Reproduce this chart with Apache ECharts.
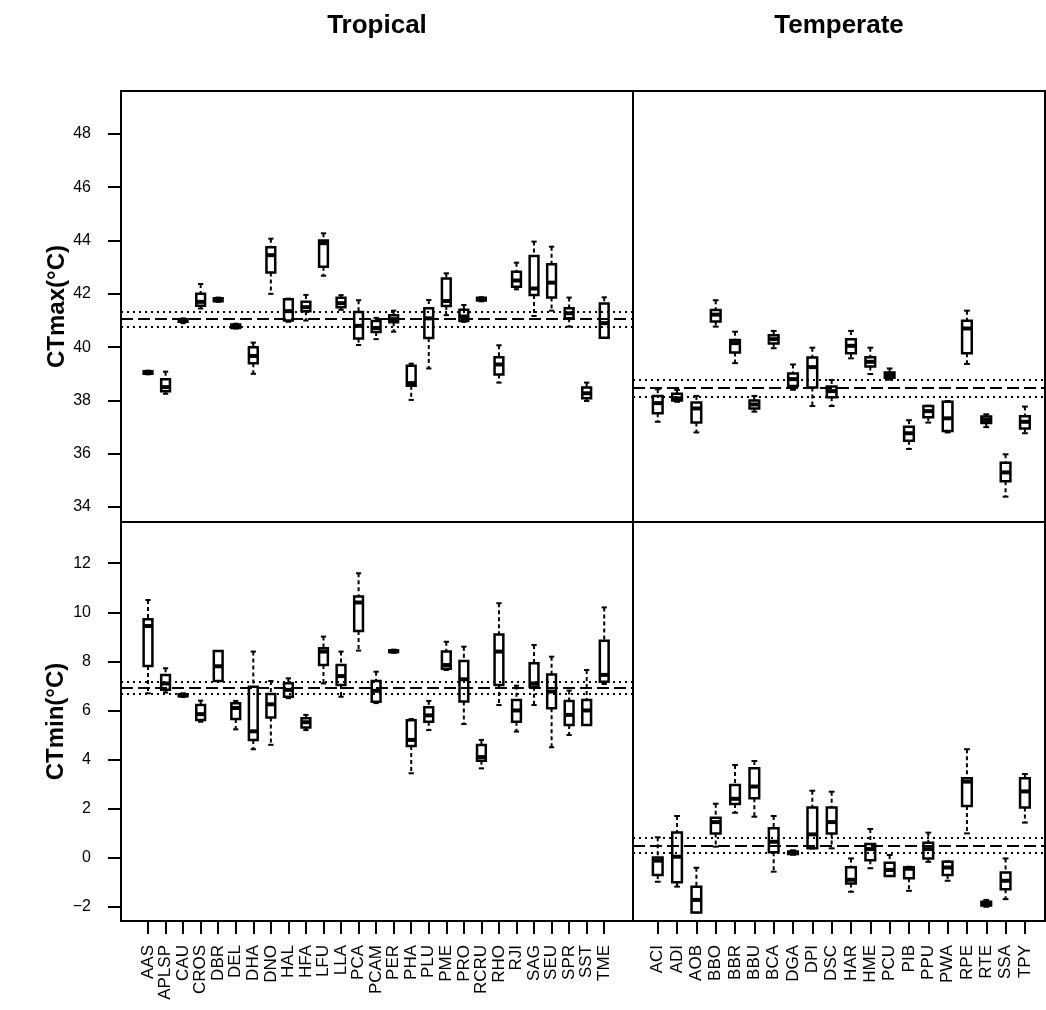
<!DOCTYPE html>
<html>
<head>
<meta charset="utf-8">
<script src="https://cdn.jsdelivr.net/npm/echarts@6/dist/echarts.min.js"></script>
<style>html,body{margin:0;padding:0;background:#fff;}#c{width:1046px;height:1010px;}</style>
</head>
<body>
<div id="c"></div>
<script>
// ---------- data ----------
const tropNames = ['AAS','APLSP','CAU','CROS','DBR','DEL','DHA','DNO','HAL','HFA','LFU','LLA','PCA','PCAM','PER','PHA','PLU','PME','PRO','RCRU','RHO','RJI','SAG','SEU','SPR','SST','TME'];
const tempNames = ['ACI','ADI','AOB','BBO','BBR','BBU','BCA','DGA','DPI','DSC','HAR','HME','PCU','PIB','PPU','PWA','RPE','RTE','SSA','TPY'];

// [lower whisker, Q1, median, Q3, upper whisker]
const tropCTmax = [
  [38.98,39.0,39.05,39.1,39.12],[38.25,38.35,38.5,38.8,39.08],[40.9,40.95,41.0,41.05,41.08],
  [41.45,41.55,41.7,42.0,42.37],[41.7,41.72,41.78,41.83,41.86],[40.7,40.72,40.78,40.85,40.88],
  [39.0,39.4,39.67,40.0,40.17],[42.0,42.8,43.45,43.75,44.07],[40.95,41.0,41.35,41.8,41.82],
  [41.0,41.35,41.5,41.7,41.96],[42.68,43.02,43.9,44.0,44.27],[41.4,41.5,41.65,41.85,41.95],
  [40.08,40.32,40.8,41.32,41.76],[40.3,40.57,40.72,40.98,41.1],[40.58,40.93,41.05,41.2,41.37],
  [38.02,38.55,38.65,39.3,39.38],[39.2,40.34,41.08,41.46,41.77],[41.2,41.54,41.73,42.58,42.77],
  [40.95,40.98,41.15,41.4,41.58],[41.72,41.75,41.8,41.85,41.87],[38.67,38.97,39.35,39.62,40.07],
  [42.17,42.27,42.5,42.83,43.17],[41.17,41.96,42.2,43.42,43.96],[41.37,41.86,42.42,43.11,43.77],
  [40.77,41.08,41.27,41.46,41.86],[37.98,38.08,38.27,38.49,38.67],[40.35,40.35,40.9,41.64,41.87]
];
const tempCTmax = [
  [37.2,37.52,37.9,38.17,38.42],[37.95,38.0,38.08,38.25,38.4],[36.8,37.17,37.7,37.92,38.17],
  [40.77,40.96,41.22,41.39,41.76],[39.4,39.8,40.15,40.27,40.58],[37.58,37.7,37.85,38.0,38.17],
  [39.96,40.14,40.3,40.45,40.61],[38.4,38.54,38.8,39.01,39.35],[37.79,38.49,39.25,39.61,39.98],
  [37.79,38.12,38.35,38.52,38.77],[39.58,39.77,40.05,40.3,40.61],[38.99,39.27,39.45,39.62,39.98],
  [38.78,38.85,38.95,39.05,39.2],[36.18,36.49,36.77,37.01,37.26],[37.17,37.37,37.6,37.79,37.8],
  [36.8,36.85,37.33,37.95,37.98],[39.37,39.77,40.7,40.99,41.37],[37.0,37.15,37.27,37.4,37.48],
  [34.39,34.97,35.3,35.66,35.98],[36.77,36.95,37.2,37.41,37.77]
];
const tropCTmin = [
  [6.7,7.81,9.44,9.72,10.5],[6.73,6.84,7.1,7.45,7.72],[6.55,6.58,6.62,6.66,6.7],
  [5.54,5.61,5.85,6.22,6.4],[7.2,7.2,7.8,8.42,8.42],[5.23,5.65,6.1,6.29,6.39],
  [4.42,4.8,5.15,6.97,8.4],[4.6,5.71,6.25,6.67,7.2],[6.5,6.56,6.84,7.11,7.31],
  [5.2,5.31,5.52,5.68,5.82],[7.1,7.85,8.4,8.53,9.01],[6.56,7.04,7.4,7.85,8.4],
  [8.44,9.24,10.4,10.64,11.59],[6.3,6.35,6.8,7.2,7.58],[8.35,8.38,8.41,8.45,8.48],
  [3.44,4.55,4.8,5.6,5.65],[5.2,5.54,5.8,6.13,6.39],[7.65,7.7,7.85,8.4,8.8],
  [5.45,6.36,7.27,8.02,8.6],[3.64,3.95,4.1,4.59,4.8],[6.22,7.04,8.4,9.1,10.37],
  [5.14,5.54,6.0,6.43,7.01],[6.22,6.97,7.1,7.92,8.67],[4.5,6.09,6.77,7.47,8.19],
  [5.0,5.41,5.82,6.39,6.81],[5.41,5.41,6.0,6.43,7.65],[7.08,7.17,7.45,8.84,10.2]
];
const tempCTmin = [
  [-0.98,-0.71,-0.12,0.01,0.83],[-1.18,-1.0,0.04,1.03,1.7],[-2.23,-2.23,-1.72,-1.18,-0.41],
  [0.45,0.99,1.45,1.63,2.2],[1.83,2.19,2.4,2.96,3.78],[1.67,2.42,2.9,3.64,3.94],
  [-0.57,0.22,0.65,1.2,1.7],[0.12,0.15,0.2,0.25,0.3],[0.38,0.38,0.95,2.05,2.73],
  [0.38,0.99,1.45,2.05,2.69],[-1.39,-1.05,-0.9,-0.39,-0.03],[-0.43,-0.1,0.35,0.56,1.17],
  [-0.75,-0.75,-0.5,-0.21,0.11],[-1.35,-0.84,-0.45,-0.39,-0.37],[-0.17,-0.03,0.35,0.61,1.02],
  [-0.94,-0.71,-0.4,-0.17,-0.15],[0.99,2.11,3.1,3.24,4.42],[-2.0,-1.95,-1.88,-1.8,-1.72],
  [-1.69,-1.29,-0.94,-0.6,-0.03],[1.43,2.05,2.7,3.24,3.41]
];

// [mean, lower CI, upper CI]
const tropMaxMean = [41.05, 40.78, 41.32];
const tempMaxMean = [38.48, 38.14, 38.79];
const tropMinMean = [6.92, 6.68, 7.16];
const tempMinMean = [0.49, 0.19, 0.81];

const maxTicks = [34, 36, 38, 40, 42, 44, 46, 48];
const minTicks = [-2, 0, 2, 4, 6, 8, 10, 12];
// ---------- end data ----------

const FONT = 'Liberation Sans';
const tropIdx = tropNames.map((_, i) => i);
const tempIdx = tempNames.map((_, i) => i);

function toItems(arr) { return arr.map((v, i) => [i].concat(v)); }

function renderBox(params, api) {
  const x = api.value(0);
  const lo = api.coord([x, api.value(1)]);
  const q1 = api.coord([x, api.value(2)]);
  const md = api.coord([x, api.value(3)]);
  const q3 = api.coord([x, api.value(4)]);
  const hi = api.coord([x, api.value(5)]);
  const w = api.size([0.5, 0])[0];
  const sw = w * 0.3;
  const cx = md[0];
  const dashed = { stroke: '#000', lineWidth: 2, lineDash: [4, 3] };
  const solid = { stroke: '#000', lineWidth: 2 };
  return {
    type: 'group',
    children: [
      { type: 'line', shape: { x1: cx, y1: hi[1], x2: cx, y2: q3[1] }, style: dashed },
      { type: 'line', shape: { x1: cx, y1: q1[1], x2: cx, y2: lo[1] }, style: dashed },
      { type: 'line', shape: { x1: cx - sw, y1: hi[1], x2: cx + sw, y2: hi[1] }, style: solid },
      { type: 'line', shape: { x1: cx - sw, y1: lo[1], x2: cx + sw, y2: lo[1] }, style: solid },
      { type: 'rect', shape: { x: cx - w / 2, y: q3[1], width: w, height: q1[1] - q3[1] },
        style: { fill: '#fff', stroke: '#000', lineWidth: 2.5 } },
      { type: 'line', shape: { x1: cx - w / 2, y1: md[1], x2: cx + w / 2, y2: md[1] },
        style: { stroke: '#000', lineWidth: 4 } }
    ]
  };
}

function boxSeries(arr, gi) {
  return {
    type: 'custom', xAxisIndex: gi, yAxisIndex: gi, renderItem: renderBox,
    data: toItems(arr), encode: { x: 0, y: [1, 2, 3, 4, 5] }, z: 3, silent: true
  };
}
function meanSeries(m, gi) {
  return {
    type: 'line', xAxisIndex: gi, yAxisIndex: gi, data: [], z: 5, silent: true,
    markLine: {
      silent: true, symbol: ['none', 'none'], label: { show: false }, animation: false,
      data: [
        { yAxis: m[0], lineStyle: { color: '#000', width: 2, type: [12, 5] } },
        { yAxis: m[1], lineStyle: { color: '#000', width: 2, type: [2, 4] } },
        { yAxis: m[2], lineStyle: { color: '#000', width: 2, type: [2, 4] } }
      ]
    }
  };
}

const gridBase = { show: true, borderColor: '#000', borderWidth: 2, backgroundColor: 'transparent' };
const hiddenParts = { axisLine: { show: false, onZero: false }, axisTick: { show: false }, axisLabel: { show: false }, splitLine: { show: false } };

function topX(gi, min, max, title) {
  return Object.assign({
    type: 'value', gridIndex: gi, min: min, max: max, position: 'top',
    name: title, nameLocation: 'middle', nameGap: 52,
    nameTextStyle: { fontFamily: FONT, fontSize: 26, fontWeight: 'bold', color: '#000' }
  }, hiddenParts);
}
function bottomX(gi, min, max, idx, names) {
  return {
    type: 'value', gridIndex: gi, min: min, max: max, position: 'bottom',
    axisLine: { show: false, onZero: false }, splitLine: { show: false },
    axisTick: { show: true, inside: false, customValues: idx, length: 13, lineStyle: { color: '#000', width: 2 } },
    axisLabel: { show: true, customValues: idx, rotate: 90, margin: 24, fontFamily: FONT, fontSize: 17, color: '#000',
      formatter: v => names[Math.round(v)] }
  };
}
function leftY(gi, min, max, ticks, title) {
  return {
    type: 'value', gridIndex: gi, min: min, max: max, position: 'left',
    name: title, nameLocation: 'middle', nameGap: 49,
    nameTextStyle: { fontFamily: FONT, fontSize: 24, fontWeight: 'bold', color: '#000' },
    axisLine: { show: false, onZero: false }, splitLine: { show: false },
    axisTick: { show: true, inside: false, customValues: ticks, length: 13, lineStyle: { color: '#000', width: 2 } },
    axisLabel: { show: true, customValues: ticks, margin: 30, fontFamily: FONT, fontSize: 16, color: '#000',
      formatter: v => String(v).replace('-', '\u2212') }
  };
}
function hiddenY(gi, min, max) {
  return Object.assign({ type: 'value', gridIndex: gi, min: min, max: max }, hiddenParts);
}

const option = {
  animation: false,
  backgroundColor: '#fff',
  grid: [
    Object.assign({ left: 121, top: 91, width: 512, height: 431 }, gridBase),
    Object.assign({ left: 633, top: 91, width: 412, height: 431 }, gridBase),
    Object.assign({ left: 121, top: 522, width: 512, height: 399 }, gridBase),
    Object.assign({ left: 633, top: 522, width: 412, height: 399 }, gridBase)
  ],
  xAxis: [
    topX(0, -1.54, 27.64, 'Tropical'),
    topX(1, -1.28, 20.04, 'Temperate'),
    bottomX(2, -1.54, 27.64, tropIdx, tropNames),
    bottomX(3, -1.28, 20.04, tempIdx, tempNames)
  ],
  yAxis: [
    leftY(0, 33.44, 49.61, maxTicks, 'CTmax(°C)'),
    hiddenY(1, 33.44, 49.61),
    leftY(2, -2.58, 13.68, minTicks, 'CTmin(°C)'),
    hiddenY(3, -2.58, 13.68)
  ],
  series: [
    boxSeries(tropCTmax, 0), meanSeries(tropMaxMean, 0),
    boxSeries(tempCTmax, 1), meanSeries(tempMaxMean, 1),
    boxSeries(tropCTmin, 2), meanSeries(tropMinMean, 2),
    boxSeries(tempCTmin, 3), meanSeries(tempMinMean, 3)
  ]
};

const chart = echarts.init(document.getElementById('c'), null, { renderer: 'canvas' });
chart.setOption(option);
</script>
</body>
</html>
